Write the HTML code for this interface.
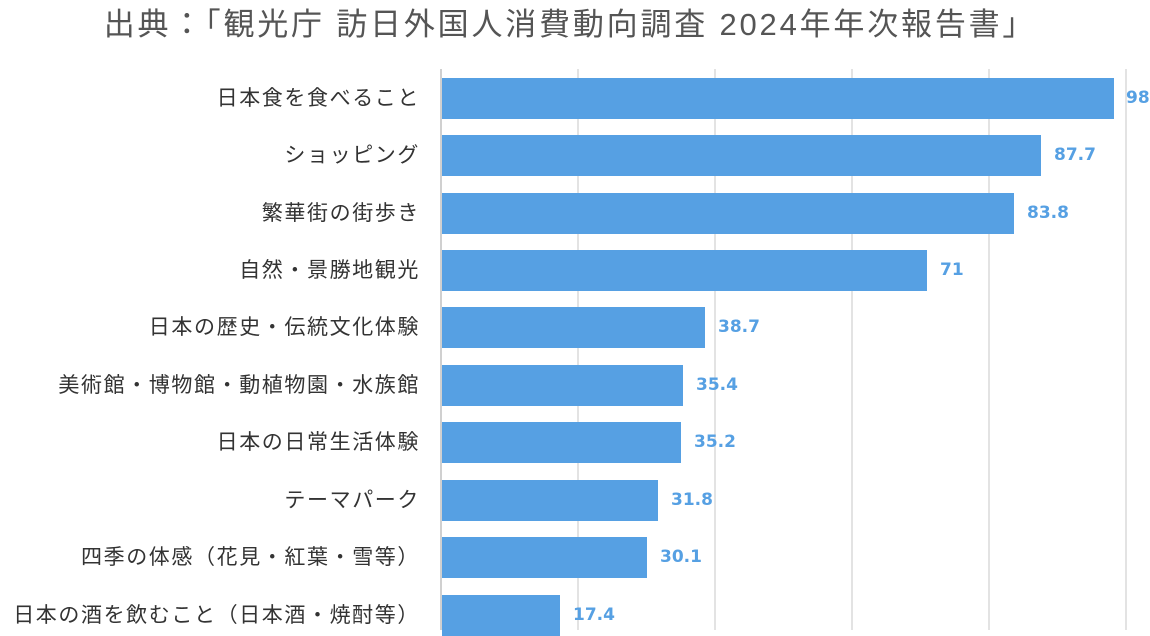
<!DOCTYPE html>
<html><head><meta charset="utf-8"><style>
body{margin:0;width:1150px;height:630px;overflow:hidden;background:#fff;font-family:"Liberation Sans","Noto Sans CJK JP",sans-serif;position:relative}
.t{position:absolute;left:0;width:1140px;top:-1px;text-align:center;font-size:31px;letter-spacing:2.8px;color:#555;white-space:nowrap}
.g{position:absolute;top:69px;height:561px;width:2px;background:#e3e3e3}
.b{position:absolute;left:442px;height:41px;background:#56a0e3}
.l{position:absolute;right:730px;font-size:21px;letter-spacing:1.6px;color:#333;white-space:nowrap;line-height:41px}
.v{position:absolute;font-family:"DejaVu Sans",sans-serif;font-size:17px;font-weight:bold;color:#56a0e3;line-height:41px}
</style></head><body>
<div class="t">出典：「観光庁 訪日外国人消費動向調査 2024年年次報告書」</div>
<div class="g" style="left:577px"></div><div class="g" style="left:714px"></div><div class="g" style="left:851px"></div><div class="g" style="left:988px"></div><div class="g" style="left:1125px"></div>
<div class="g" style="left:440px;background:#d0d0d0"></div>
<div class="b" style="top:78px;width:672px"></div><div class="l" style="top:78px">日本食を食べること</div><div class="v" style="top:78px;left:1126px">98</div>
<div class="b" style="top:135px;width:599px"></div><div class="l" style="top:135px">ショッピング</div><div class="v" style="top:135px;left:1054px">87.7</div>
<div class="b" style="top:193px;width:572px"></div><div class="l" style="top:193px">繁華街の街歩き</div><div class="v" style="top:193px;left:1027px">83.8</div>
<div class="b" style="top:250px;width:485px"></div><div class="l" style="top:250px">自然・景勝地観光</div><div class="v" style="top:250px;left:940px">71</div>
<div class="b" style="top:307px;width:263px"></div><div class="l" style="top:307px">日本の歴史・伝統文化体験</div><div class="v" style="top:307px;left:718px">38.7</div>
<div class="b" style="top:365px;width:241px"></div><div class="l" style="top:365px">美術館・博物館・動植物園・水族館</div><div class="v" style="top:365px;left:696px">35.4</div>
<div class="b" style="top:422px;width:239px"></div><div class="l" style="top:422px">日本の日常生活体験</div><div class="v" style="top:422px;left:694px">35.2</div>
<div class="b" style="top:480px;width:216px"></div><div class="l" style="top:480px">テーマパーク</div><div class="v" style="top:480px;left:671px">31.8</div>
<div class="b" style="top:537px;width:205px"></div><div class="l" style="top:537px">四季の体感（花見・紅葉・雪等）</div><div class="v" style="top:537px;left:660px">30.1</div>
<div class="b" style="top:595px;width:118px"></div><div class="l" style="top:595px">日本の酒を飲むこと（日本酒・焼酎等）</div><div class="v" style="top:595px;left:573px">17.4</div>
</body></html>
